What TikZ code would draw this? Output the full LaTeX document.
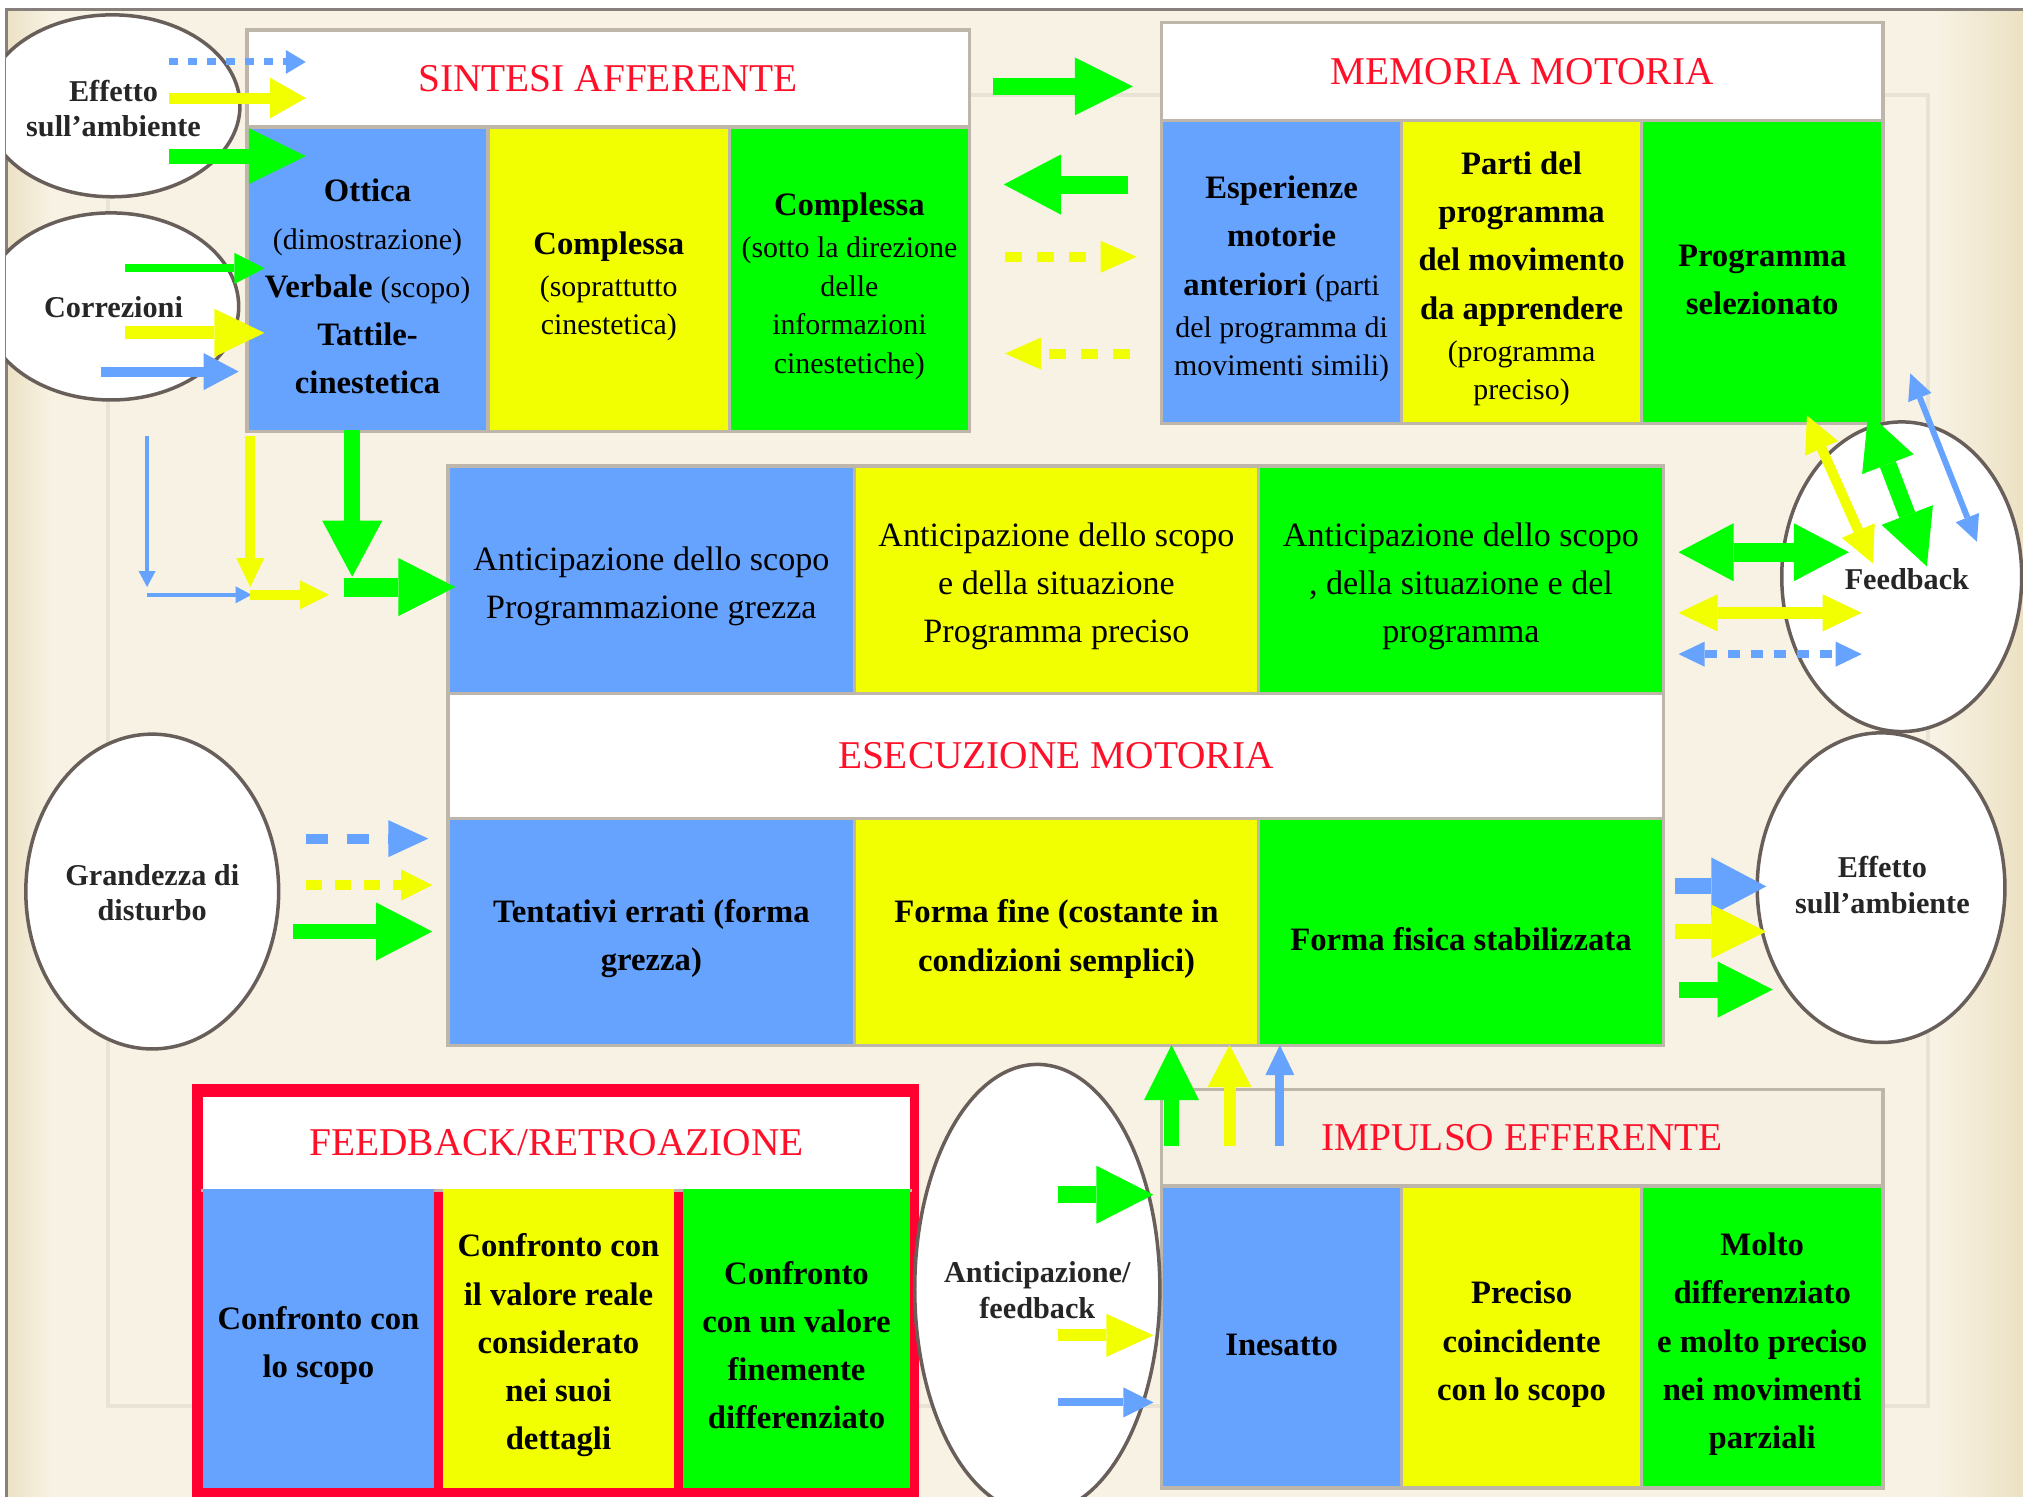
\documentclass[tikz,border=0pt]{standalone}
\usepackage{fontspec}
\setmainfont{Liberation Serif}
\usetikzlibrary{arrows.meta,shapes.geometric}

\definecolor{cblue}{RGB}{102,163,255}
\definecolor{cyellow}{RGB}{242,255,0}
\definecolor{cgreen}{RGB}{0,255,0}
\definecolor{cred}{RGB}{255,16,40}
\definecolor{cframe}{RGB}{255,0,48}
\definecolor{bg}{RGB}{247,242,228}
\definecolor{bgdark}{RGB}{236,225,195}
\definecolor{bghead}{RGB}{245,240,226}
\definecolor{cgrey}{RGB}{190,182,170}
\definecolor{cline}{RGB}{105,95,90}
\definecolor{cfaint}{RGB}{233,227,213}

\newcommand{\pxu}{0.12902mm}
\newcommand{\cellstrut}{\rule{0pt}{10.5pt}}
\newcommand{\smalltx}[1]{{\mdseries\fontsize{8.5}{11}\selectfont #1}}

\tikzset{
  wh/.style 2 args={minimum width=#1*\pxu, minimum height=#2*\pxu},
  cellbox/.style={draw=cgrey, line width=0.35mm, inner sep=0pt, anchor=north west,
    align=center, text=black, font=\bfseries\fontsize{9.3}{13.7}\selectfont},
  regtext/.style={font=\mdseries\fontsize{9.7}{13.7}\selectfont},
  titletext/.style={text=cred, font=\mdseries\fontsize{11.2}{13}\selectfont},
  oval/.style={ellipse, draw=cline, line width=0.35mm, fill=white, inner sep=0pt},
  ovaltext/.style={align=center, text=black!85, font=\bfseries\fontsize{8.6}{10}\selectfont},
  fat/.style n args={3}{line width=#1, -{Triangle[width=#2,length=#3,line width=0pt]}},
  fatdash/.style n args={5}{line width=#1, dash pattern=on #4 off #5,
    -{Triangle[width=#2,length=#3,line width=0pt]}},
  twin/.style n args={3}{line width=#1,
    {Triangle[width=#2,length=#3,line width=0pt]}-{Triangle[width=#2,length=#3,line width=0pt]}},
  twindash/.style n args={5}{line width=#1, dash pattern=on #4 off #5,
    {Triangle[width=#2,length=#3,line width=0pt]}-{Triangle[width=#2,length=#3,line width=0pt]}},
}

\begin{document}
\begin{tikzpicture}[x=\pxu, y=-\pxu]
\useasboundingbox (0,0) rectangle (1568,1160);
% background
\fill[white] (0,0) rectangle (1568,1160);
\fill[bg] (4.7,7) rectangle (1568,1160);
\shade[left color=bgdark, right color=bg] (4.7,7) rectangle (40,1160);
\shade[left color=bg, right color=bgdark] (1500,7) rectangle (1568,1160);
\draw[cline!80, line width=0.3mm] (4.7,1160) -- (4.7,7) -- (1568,7);
\draw[cfaint, line width=0.4mm] (84,74) rectangle (1494,1090);

% SINTESI AFFERENTE
\node[cellbox, fill=white, wh={560}{75}, titletext] (saH) at (190,22) {SINTESI AFFERENTE};
\node[cellbox, fill=cblue, wh={187}{236}] (sa1) at (190,97)
  {\cellstrut Ottica\\ \smalltx{(dimostrazione)}\\ Verbale \smalltx{(scopo)}\\ Tattile-\\ cinestetica};
\node[cellbox, fill=cyellow, wh={187}{236}] (sa2) at (377,97)
  {\cellstrut Complessa\\[-1.7pt] \smalltx{(soprattutto}\\[-2.7pt] \smalltx{cinestetica)}};
\node[cellbox, fill=cgreen, wh={186}{236}] (sa3) at (564,97)
  {\cellstrut Complessa\\[-1.7pt] \smalltx{(sotto la direzione}\\[-2.7pt] \smalltx{delle}\\[-2.7pt] \smalltx{informazioni}\\[-2.7pt] \smalltx{cinestetiche)}};

% MEMORIA MOTORIA
\node[cellbox, fill=white, wh={559}{76}, titletext] (mmH) at (899,16) {MEMORIA MOTORIA};
\node[cellbox, fill=cblue, wh={186}{235}] (mm1) at (899,92)
  {\cellstrut Esperienze\\ motorie\\ anteriori \smalltx{(parti}\\[-1.7pt] \smalltx{del programma di}\\[-2.7pt] \smalltx{movimenti simili)}};
\node[cellbox, fill=cyellow, wh={186}{235}] (mm2) at (1085,92)
  {\cellstrut Parti del\\ programma\\ del movimento\\ da apprendere\\[-1.7pt] \smalltx{(programma}\\[-2.7pt] \smalltx{preciso)}};
\node[cellbox, fill=cgreen, wh={187}{235}] (mm3) at (1271,92)
  {\cellstrut Programma\\ selezionato};

% ESECUZIONE MOTORIA block
\node[cellbox, fill=cblue, wh={315}{176}, regtext] (ex1) at (346,360)
  {\cellstrut Anticipazione dello scopo\\ Programmazione grezza};
\node[cellbox, fill=cyellow, wh={313}{176}, regtext] (ex2) at (661,360)
  {\cellstrut Anticipazione dello scopo\\ e della situazione\\ Programma preciso};
\node[cellbox, fill=cgreen, wh={314}{176}, regtext] (ex3) at (974,360)
  {\cellstrut Anticipazione dello scopo\\ , della situazione e del\\ programma};
\node[cellbox, fill=white, wh={942}{97}, titletext] (exH) at (346,536) {ESECUZIONE MOTORIA};
\node[cellbox, fill=cblue, wh={315}{176}] (ex4) at (346,633)
  {\cellstrut Tentativi errati (forma\\ grezza)};
\node[cellbox, fill=cyellow, wh={313}{176}] (ex5) at (661,633)
  {\cellstrut Forma fine (costante in\\ condizioni semplici)};
\node[cellbox, fill=cgreen, wh={314}{176}] (ex6) at (974,633)
  {\cellstrut Forma fisica stabilizzata};

% FEEDBACK / RETROAZIONE
\node[fill=cframe, inner sep=0pt, anchor=north west, wh={564}{330}] (fbF) at (148,840) {};
\node[cellbox, draw=none, fill=white, wh={548}{71}, titletext] (fbH) at (156,849) {FEEDBACK/RETROAZIONE};
\draw[cgrey, line width=0.35mm] (fbH.south west) -- (fbH.south east);
\node[cellbox, draw=none, fill=cblue, wh={179}{232}] (fb1) at (156,920)
  {\cellstrut Confronto con\\ lo scopo};
\node[cellbox, draw=none, fill=cyellow, wh={179}{232}] (fb2) at (342,920)
  {\cellstrut Confronto con\\ il valore reale\\ considerato\\ nei suoi\\ dettagli};
\node[cellbox, draw=none, fill=cgreen, wh={176}{232}] (fb3) at (528,920)
  {\cellstrut Confronto\\ con un valore\\ finemente\\ differenziato};

% IMPULSO EFFERENTE
\node[cellbox, fill=bghead, wh={559}{75}, titletext] (ieH) at (899,843) {IMPULSO EFFERENTE};
\node[cellbox, fill=cblue, wh={186}{234}] (ie1) at (899,918) {\cellstrut Inesatto};
\node[cellbox, fill=cyellow, wh={186}{234}] (ie2) at (1085,918)
  {\cellstrut Preciso\\ coincidente\\ con lo scopo};
\node[cellbox, fill=cgreen, wh={187}{234}] (ie3) at (1271,918)
  {\cellstrut Molto\\ differenziato\\ e molto preciso\\ nei movimenti\\ parziali};

% ellipses
\begin{scope}
\clip (4.7,7) rectangle (1568,1160);
\node[oval, wh={198}{141}] (eA) at (87,82) {};
\node[oval, wh={198}{145}] (eC) at (86,237.5) {};
\node[oval, wh={196}{244}] (eG) at (118,691) {};
\node[oval, wh={186}{240}] (eF) at (1474,447) {};
\node[oval, wh={192}{240}] (eE) at (1458,688) {};
\node[oval, wh={190}{348}] (eAF) at (804,999) {};
\end{scope}
\node[ovaltext] (tA) at (88,84) {Effetto\\sull’ambiente};
\node[ovaltext] (tC) at (88,238) {Correzioni};
\node[ovaltext] (tG) at (118,692) {Grandezza di\\disturbo};
\node[ovaltext] (tF) at (1478,449) {Feedback};
\node[ovaltext] (tE) at (1459,686) {Effetto\\sull’ambiente};
\node[ovaltext] (tAF) at (804,1000) {Anticipazione/\\feedback};

% arrows: into SINTESI
\coordinate (a1s) at (131,48);  \coordinate (a1e) at (237,48);
\coordinate (a2s) at (131,76);  \coordinate (a2e) at (237,76);
\coordinate (a3s) at (131,121); \coordinate (a3e) at (237,121);
\coordinate (a4s) at (97,208);  \coordinate (a4e) at (205,208);
\coordinate (a5s) at (97,258);  \coordinate (a5e) at (205,258);
\coordinate (a6s) at (78,288);  \coordinate (a6e) at (185,288);
\draw[cblue, fatdash={0.7mm}{2.4mm}{2.0mm}{0.9mm}{1.0mm}] (a1s) -- (a1e);
\draw[cyellow, fat={1.1mm}{4.1mm}{3.6mm}] (a2s) -- (a2e);
\draw[cgreen, fat={1.5mm}{5.6mm}{5.7mm}] (a3s) -- (a3e);
\draw[cgreen, fat={0.8mm}{3.1mm}{3.0mm}] (a4s) -- (a4e);
\draw[cyellow, fat={1.3mm}{4.8mm}{5.0mm}] (a5s) -- (a5e);
\draw[cblue, fat={1.0mm}{3.7mm}{3.5mm}] (a6s) -- (a6e);

% between SINTESI and MEMORIA
\coordinate (b1s) at (770,67);  \coordinate (b1e) at (878,67);
\coordinate (b2s) at (874,143); \coordinate (b2e) at (778,143);
\coordinate (b3s) at (779,199); \coordinate (b3e) at (881,199);
\coordinate (b4s) at (876,274); \coordinate (b4e) at (779,274);
\draw[cgreen, fat={1.7mm}{5.8mm}{5.8mm}] (b1s) -- (b1e);
\draw[cgreen, fat={1.8mm}{6.0mm}{5.7mm}] (b2s) -- (b2e);
\draw[cyellow, fatdash={1.0mm}{3.2mm}{3.6mm}{1.7mm}{1.5mm}] (b3s) -- (b3e);
\draw[cyellow, fatdash={1.0mm}{3.2mm}{3.6mm}{1.7mm}{1.5mm}] (b4s) -- (b4e);

% down from SINTESI to ESECUZIONE
\coordinate (c1s) at (114,338); \coordinate (c1e) at (114,455);
\coordinate (c2s) at (114,461); \coordinate (c2e) at (195,461);
\coordinate (c3s) at (194,338); \coordinate (c3e) at (194,455);
\coordinate (c4s) at (194,461); \coordinate (c4e) at (255,461);
\coordinate (c5s) at (273,333); \coordinate (c5e) at (273,447);
\coordinate (c6s) at (267,455); \coordinate (c6e) at (353,455);
\draw[cblue, fat={0.4mm}{1.7mm}{1.6mm}] (c1s) -- (c1e);
\draw[cblue, fat={0.4mm}{1.7mm}{1.6mm}] (c2s) -- (c2e);
\draw[cyellow, fat={1.0mm}{2.8mm}{2.9mm}] (c3s) -- (c3e);
\draw[cyellow, fat={1.0mm}{2.9mm}{2.9mm}] (c4s) -- (c4e);
\draw[cgreen, fat={1.6mm}{6.0mm}{5.6mm}] (c5s) -- (c5e);
\draw[cgreen, fat={1.9mm}{5.8mm}{5.7mm}] (c6s) -- (c6e);

% right: ESECUZIONE <-> Feedback
\coordinate (d1s) at (1301,428); \coordinate (d1e) at (1433,428);
\coordinate (d2s) at (1301,475); \coordinate (d2e) at (1443,475);
\coordinate (d3s) at (1301,507); \coordinate (d3e) at (1443,507);
\draw[cgreen, twin={1.9mm}{5.8mm}{5.5mm}] (d1s) -- (d1e);
\draw[cyellow, twin={1.2mm}{3.7mm}{3.9mm}] (d2s) -- (d2e);
\draw[cblue, twindash={0.8mm}{2.5mm}{2.6mm}{1.2mm}{1.1mm}] (d3s) -- (d3e);

% diagonals Feedback <-> MEMORIA
\coordinate (e1s) at (1400.5,322); \coordinate (e1e) at (1451.7,436.7);
\coordinate (e2s) at (1448,320);   \coordinate (e2e) at (1493.5,439);
\coordinate (e3s) at (1480.6,289.4); \coordinate (e3e) at (1532.3,419.9);
\draw[cyellow, twin={1.0mm}{3.6mm}{3.6mm}] (e1s) -- (e1e);
\draw[cgreen, twin={1.7mm}{5.5mm}{5.5mm}] (e2s) -- (e2e);
\draw[cblue, twin={0.6mm}{2.5mm}{2.6mm}] (e3s) -- (e3e);

% into right Effetto
\coordinate (f1s) at (1298,687); \coordinate (f1e) at (1369,687);
\coordinate (f2s) at (1298,722); \coordinate (f2e) at (1369,722);
\coordinate (f3s) at (1301,767); \coordinate (f3e) at (1374,767);
\draw[cblue, fat={1.6mm}{5.8mm}{5.5mm}] (f1s) -- (f1e);
\draw[cyellow, fat={1.5mm}{5.4mm}{5.5mm}] (f2s) -- (f2e);
\draw[cgreen, fat={1.6mm}{5.6mm}{5.5mm}] (f3s) -- (f3e);

% from Grandezza di disturbo
\coordinate (g1s) at (237,650); \coordinate (g1e) at (332,650);
\coordinate (g2s) at (237,686); \coordinate (g2e) at (335,686);
\coordinate (g3s) at (227,722); \coordinate (g3e) at (335,722);
\draw[cblue, fatdash={1.0mm}{3.7mm}{4.0mm}{2.2mm}{1.9mm}] (g1s) -- (g1e);
\draw[cyellow, fatdash={1.0mm}{3.1mm}{3.1mm}{1.6mm}{1.3mm}] (g2s) -- (g2e);
\draw[cgreen, fat={1.5mm}{5.8mm}{5.6mm}] (g3s) -- (g3e);

% up from IMPULSO
\coordinate (h1s) at (908,888); \coordinate (h1e) at (908,810);
\coordinate (h2s) at (953,888); \coordinate (h2e) at (953,810);
\coordinate (h3s) at (992,888); \coordinate (h3e) at (992,810);
\draw[cgreen, fat={1.5mm}{5.5mm}{5.5mm}] (h1s) -- (h1e);
\draw[cyellow, fat={1.2mm}{4.4mm}{4.2mm}] (h2s) -- (h2e);
\draw[cblue, fat={0.9mm}{2.9mm}{3.0mm}] (h3s) -- (h3e);

% from Anticipazione/feedback
\coordinate (i1s) at (820,926);  \coordinate (i1e) at (894,926);
\coordinate (i2s) at (820,1035); \coordinate (i2e) at (894,1035);
\coordinate (i3s) at (820,1087); \coordinate (i3e) at (894,1087);
\draw[cgreen, fat={1.7mm}{5.8mm}{5.7mm}] (i1s) -- (i1e);
\draw[cyellow, fat={1.2mm}{4.3mm}{4.7mm}] (i2s) -- (i2e);
\draw[cblue, fat={0.8mm}{3.0mm}{3.0mm}] (i3s) -- (i3e);
\end{tikzpicture}
\end{document}
